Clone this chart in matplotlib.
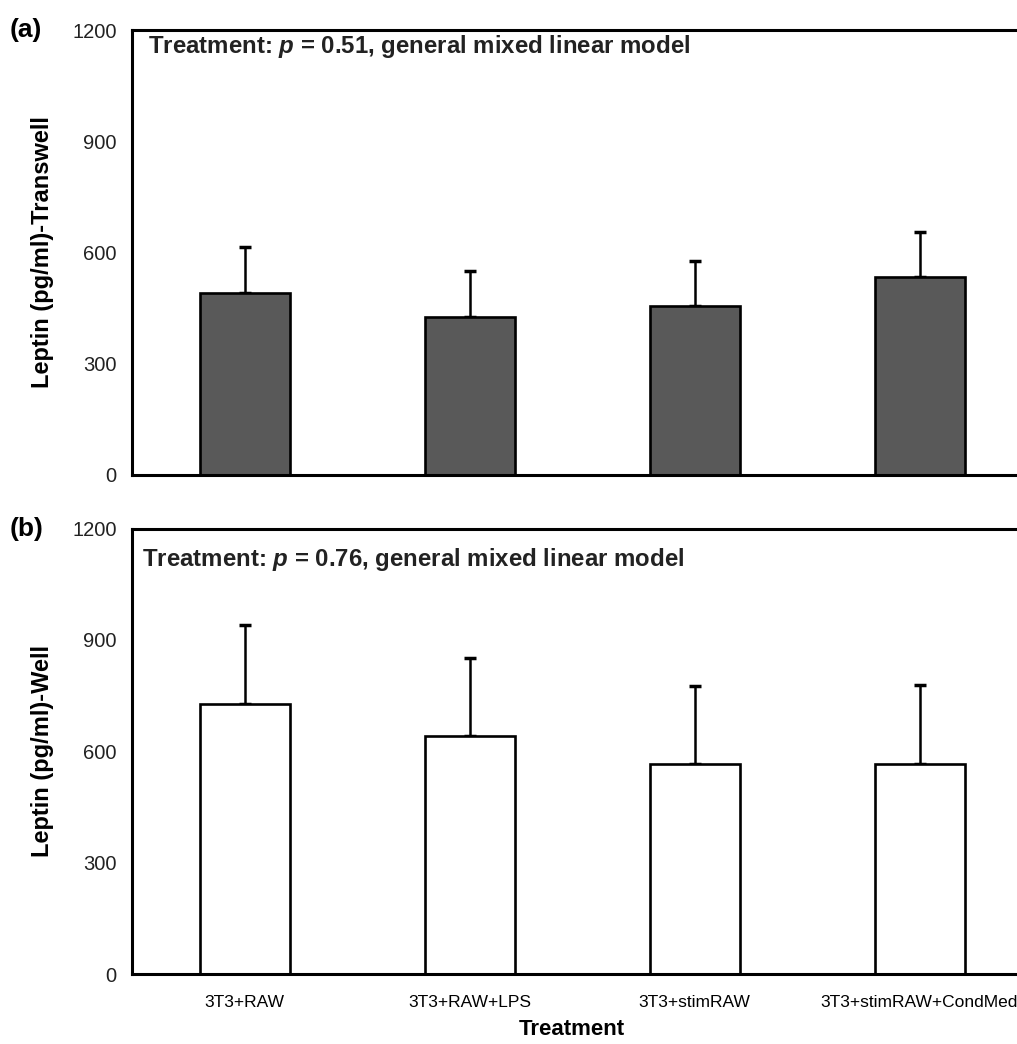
import numpy as np
import matplotlib
matplotlib.use("Agg")
import matplotlib.pyplot as plt

plt.rcParams['font.family'] = ['Liberation Sans', 'DejaVu Sans']
plt.rcParams['mathtext.fontset'] = 'custom'
plt.rcParams['mathtext.rm'] = 'Liberation Sans'
plt.rcParams['mathtext.it'] = 'Liberation Sans:italic'
plt.rcParams['mathtext.bf'] = 'Liberation Sans:bold'
plt.rcParams['mathtext.bfit'] = 'Liberation Sans:italic:bold'

# ---------------------------- Data ---------------------------- #
treatments = ['3T3+RAW', '3T3+RAW+LPS', '3T3+stimRAW', '3T3+stimRAW+CondMed']
transwell_mean = [492, 427, 456, 533]
transwell_err = [123, 122, 122, 123]
well_mean = [728, 641, 566, 566]
well_err = [212, 211, 211, 212]
yticks = [0, 300, 600, 900, 1200]

W, H = 1017, 1044
fig = plt.figure(figsize=(W / 100, H / 100), dpi=100)

# Axes extend slightly past the right edge, as in the original figure
ax_a = fig.add_axes([132 / W, 1 - 475 / H, 900 / W, 445 / H])
ax_b = fig.add_axes([132 / W, 1 - 974 / H, 900 / W, 445.5 / H])

x = np.arange(len(treatments))


def draw_panel(ax, means, errs, color, ylabel, note, note_y):
    ax.bar(x, means, width=0.4, color=color, edgecolor='black', linewidth=1.9,
           zorder=2)
    ax.errorbar(x, means, yerr=[np.zeros(len(errs)), errs], fmt='none',
                ecolor='black', elinewidth=1.8, capsize=4, capthick=2.5,
                zorder=1)
    ax.set_xlim(-0.5, 3.5)
    ax.set_ylim(0, 1200)
    ax.set_yticks(yticks)
    ax.set_yticklabels([str(t) for t in yticks], fontsize=14.5,
                       color='#222222')
    ax.tick_params(axis='y', length=0, pad=11)
    ax.tick_params(axis='x', length=0)
    for side in ['left', 'top', 'bottom']:
        ax.spines[side].set_linewidth(2.2)
    ax.spines['right'].set_visible(False)
    ax.set_ylabel(ylabel, fontsize=17, fontweight='bold')
    ax.yaxis.set_label_coords(-0.087, 0.5)
    ax.text(note[0], note_y, note[1], transform=ax.transAxes, fontsize=17.3,
            fontweight='bold', color='#222222', va='center', ha='left')


draw_panel(ax_a, transwell_mean, transwell_err, '#595959',
           'Leptin (pg/ml)-Transwell',
           (0.018, r'Treatment: $\boldsymbol{p}$ = 0.51, general mixed linear model'),
           0.962)
draw_panel(ax_b, well_mean, well_err, 'white',
           'Leptin (pg/ml)-Well',
           (0.011, r'Treatment: $\boldsymbol{p}$ = 0.76, general mixed linear model'),
           0.93)

ax_a.set_xticks([])
ax_b.set_xticks(x)
ax_b.set_xticklabels(treatments, fontsize=12.5)
ax_b.tick_params(axis='x', pad=15)
ax_b.set_xlabel('Treatment', fontsize=16, fontweight='bold')
ax_b.xaxis.set_label_coords((572 - 132) / 900, -(1019 - 974) / 445.5)

fig.text(10 / W, 1 - 30 / H, '(a)', fontsize=19, fontweight='bold',
         va='center', ha='left')
fig.text(10 / W, 1 - 529 / H, '(b)', fontsize=19, fontweight='bold',
         va='center', ha='left')

plt.savefig('out.png', dpi=100)
